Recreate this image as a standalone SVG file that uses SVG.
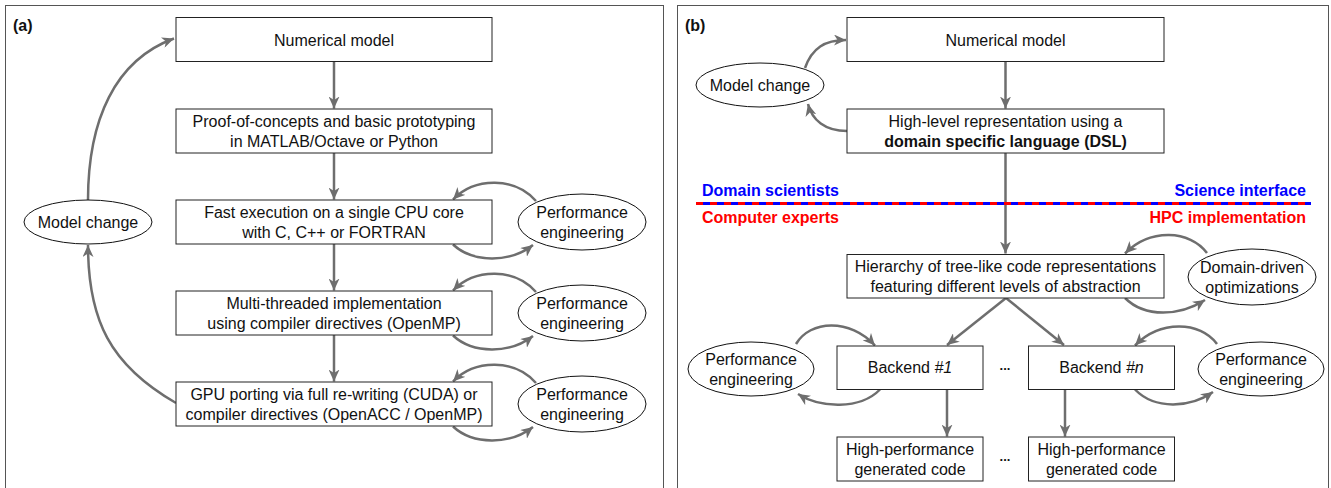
<svg xmlns="http://www.w3.org/2000/svg" width="1331" height="488" viewBox="0 0 1331 488">
<style>
.panel{fill:#fff;stroke:#555;stroke-width:1}
.box{fill:#fff;stroke:#222;stroke-width:1}
.ell{fill:#fff;stroke:#111;stroke-width:1}
.t{font-family:"Liberation Sans",Arial,Helvetica,sans-serif;font-size:16px;fill:#111;text-anchor:middle}
.b{font-weight:bold}
.lbl{font-family:"Liberation Sans",Arial,Helvetica,sans-serif;font-size:16px;font-weight:bold;fill:#111}
.blue{font-family:"Liberation Sans",Arial,sans-serif;font-size:16px;font-weight:bold;fill:#0000ff}
.red{font-family:"Liberation Sans",Arial,sans-serif;font-size:16px;font-weight:bold;fill:#ff0000}
.c{fill:none;stroke:#6e6e6e;stroke-width:2.5;marker-end:url(#ah)}
.dots{font-family:"Liberation Sans",Arial,sans-serif;font-size:13px;font-weight:bold;fill:#111;text-anchor:middle}
</style>
<defs>
<marker id="ah" markerUnits="userSpaceOnUse" markerWidth="13" markerHeight="11" viewBox="0 0 13 11" refX="12" refY="5.5" orient="auto">
<path d="M0,0 L12,5.5 L0,11 L3.5,5.5 z" fill="#6e6e6e"/>
</marker>
</defs>
<rect width="1331" height="488" fill="#fff"/>
<rect class="panel" x="5.5" y="5.5" width="658" height="495"/>
<rect class="panel" x="677.5" y="5.5" width="651" height="495"/>
<text class="lbl" x="13" y="31">(a)</text>
<text class="lbl" x="685" y="31">(b)</text>

<g id="connectors">
<path class="c" d="M334,62 V108.5"/>
<path class="c" d="M334,153 V199.5"/>
<path class="c" d="M334,244 V290.5"/>
<path class="c" d="M334,335 V381.5"/>
<path class="c" d="M176,403 C110,365 88,320 88,245"/>
<path class="c" d="M88,200 C88,120 115,60 174,38.5"/>
<path class="c" d="M536,201 C515,177 475,177 453,199.5"/>
<path class="c" d="M453,244.5 C473,263 510,263 533,245"/>
<path class="c" d="M536,292 C515,268 475,268 453,290.5"/>
<path class="c" d="M453,335.5 C473,354 510,354 533,336"/>
<path class="c" d="M536,383 C515,359 475,359 453,381.5"/>
<path class="c" d="M453,426.5 C473,445 510,445 533,427"/>

<path class="c" d="M1005.5,62 V108.5"/>
<path class="c" d="M1005.5,153 V253.5"/>
<path class="c" d="M1006,298 L947,345"/>
<path class="c" d="M1006,298 L1064,345"/>
<path class="c" d="M947,389.5 V436.5"/>
<path class="c" d="M1065,389.5 V436.5"/>
<path class="c" d="M805,68 C812,48 825,40 846,40"/>
<path class="c" d="M847,131 C825,131 812,120 808,104"/>
<path class="c" d="M1207,253 C1190,230 1150,228 1125,253.5"/>
<path class="c" d="M1125,298 C1145,318 1180,316 1205,300"/>
<path class="c" d="M1217,344 C1200,321 1160,320 1135,345.5"/>
<path class="c" d="M1135,389.5 C1155,410 1190,408 1213,392"/>
<path class="c" d="M796,344 C810,320 850,318 875,345.5"/>
<path class="c" d="M880,389.5 C860,410 820,408 798,394"/>
</g>

<g id="a-numerical-model"><rect class="box" x="176" y="17.5" width="316" height="44"/><text class="t" x="334" y="45.5">Numerical model</text></g>
<g id="a-proof"><rect class="box" x="176" y="109" width="316" height="44"/><text class="t" x="334" y="127">Proof-of-concepts and basic prototyping</text><text class="t" x="334" y="147">in MATLAB/Octave or Python</text></g>
<g id="a-fast"><rect class="box" x="176" y="200" width="316" height="44"/><text class="t" x="334" y="218">Fast execution on a single CPU core</text><text class="t" x="334" y="238">with C, C++ or FORTRAN</text></g>
<g id="a-multi"><rect class="box" x="176" y="291" width="316" height="44"/><text class="t" x="334" y="309">Multi-threaded implementation</text><text class="t" x="334" y="329">using compiler directives (OpenMP)</text></g>
<g id="a-gpu"><rect class="box" x="176" y="382" width="316" height="44"/><text class="t" x="334" y="400">GPU porting via full re-writing (CUDA) or</text><text class="t" x="334" y="420">compiler directives (OpenACC / OpenMP)</text></g>
<g id="a-model-change"><ellipse class="ell" cx="88" cy="222" rx="64" ry="22"/><text class="t" x="88" y="227.5">Model change</text></g>
<g id="a-perf1"><ellipse class="ell" cx="582" cy="222" rx="64" ry="28"/><text class="t" x="582" y="217.5">Performance</text><text class="t" x="582" y="237.5">engineering</text></g>
<g id="a-perf2"><ellipse class="ell" cx="582" cy="313" rx="64" ry="28"/><text class="t" x="582" y="308.5">Performance</text><text class="t" x="582" y="328.5">engineering</text></g>
<g id="a-perf3"><ellipse class="ell" cx="582" cy="404" rx="64" ry="28"/><text class="t" x="582" y="399.5">Performance</text><text class="t" x="582" y="419.5">engineering</text></g>

<g id="b-numerical-model"><rect class="box" x="847" y="17.5" width="317" height="44"/><text class="t" x="1005.5" y="45.5">Numerical model</text></g>
<g id="b-dsl"><rect class="box" x="847" y="109" width="317" height="44"/><text class="t" x="1005.5" y="127">High-level representation using a</text><text class="t b" x="1005.5" y="147">domain specific language (DSL)</text></g>
<g id="b-model-change"><ellipse class="ell" cx="760" cy="85" rx="64" ry="22"/><text class="t" x="760" y="90.5">Model change</text></g>

<g id="b-separator">
<line x1="696" y1="203.5" x2="1311" y2="203.5" stroke="#ff0000" stroke-width="3"/>
<line x1="696" y1="203.5" x2="1311" y2="203.5" stroke="#0000ff" stroke-width="3" stroke-dasharray="7 7" stroke-dashoffset="-7"/>
<text class="blue" x="702" y="195.5">Domain scientists</text>
<text class="blue" x="1306" y="195.5" text-anchor="end">Science interface</text>
<text class="red" x="702" y="222.5">Computer experts</text>
<text class="red" x="1306" y="222.5" text-anchor="end">HPC implementation</text>
</g>

<g id="b-hierarchy"><rect class="box" x="847" y="254.5" width="317" height="43.5"/><text class="t" x="1005.5" y="272">Hierarchy of tree-like code representations</text><text class="t" x="1005.5" y="292">featuring different levels of abstraction</text></g>
<g id="b-domain-driven"><ellipse class="ell" cx="1252" cy="277" rx="64" ry="28"/><text class="t" x="1252" y="273">Domain-driven</text><text class="t" x="1252" y="293">optimizations</text></g>
<g id="b-backend1"><rect class="box" x="837" y="346" width="146" height="43.5"/><text class="t" x="910" y="373">Backend <tspan font-style="italic">#1</tspan></text></g>
<g id="b-backendn"><rect class="box" x="1028.5" y="346" width="146" height="43.5"/><text class="t" x="1101.5" y="373">Backend <tspan font-style="italic">#n</tspan></text></g>
<g id="b-dots1"><text class="dots" x="1005" y="370">...</text></g>
<g id="b-perf-left"><ellipse class="ell" cx="751" cy="369" rx="63" ry="27"/><text class="t" x="751" y="364.5">Performance</text><text class="t" x="751" y="384.5">engineering</text></g>
<g id="b-perf-right"><ellipse class="ell" cx="1261" cy="369" rx="63" ry="27"/><text class="t" x="1261" y="364.5">Performance</text><text class="t" x="1261" y="384.5">engineering</text></g>
<g id="b-hp1"><rect class="box" x="837" y="437" width="146" height="44"/><text class="t" x="910" y="455">High-performance</text><text class="t" x="910" y="475">generated code</text></g>
<g id="b-hpn"><rect class="box" x="1028.5" y="437" width="146" height="44"/><text class="t" x="1101.5" y="455">High-performance</text><text class="t" x="1101.5" y="475">generated code</text></g>
<g id="b-dots2"><text class="dots" x="1005" y="461">...</text></g>
</svg>
